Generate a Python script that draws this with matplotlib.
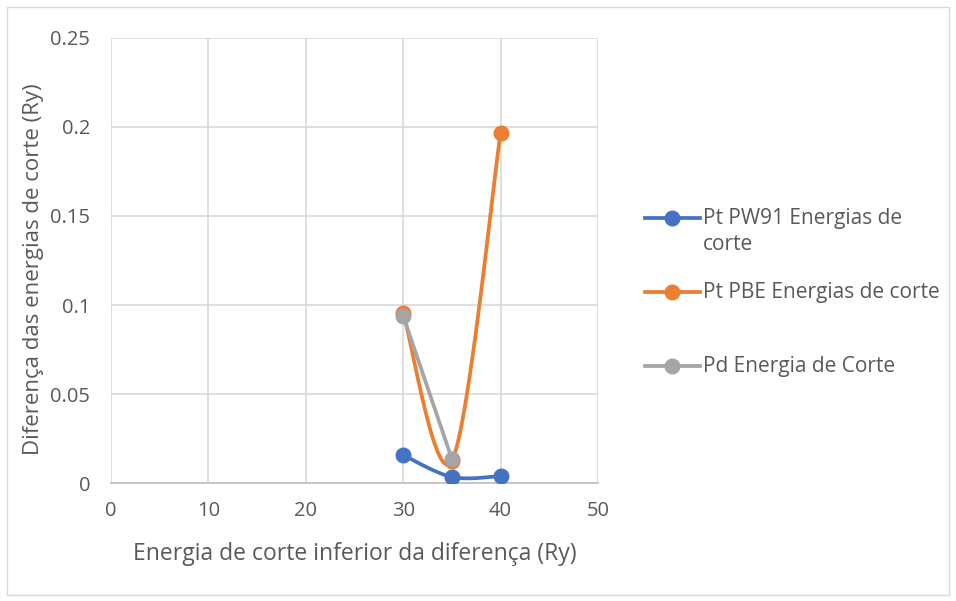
import matplotlib.pyplot as plt
from matplotlib.lines import Line2D
from matplotlib.patches import Rectangle
import numpy as np

plt.rcParams['font.family'] = ['Open Sans', 'DejaVu Sans']

# data
x_pw91 = [30, 35, 40]
y_pw91 = [0.0157, 0.0034, 0.0039]
x_pbe = [30, 35, 40]
y_pbe = [0.0955, 0.0125, 0.1966]
x_pd = [30, 35]
y_pd = [0.0938, 0.0135]

labels = ["Pt PW91 Energias de\ncorte", "Pt PBE Energias de corte", "Pd Energia de Corte"]
colors = ["#4472C4", "#ED7D31", "#A5A5A5"]
text_col = "#595959"


def smooth(xs, ys, n=60):
    # Excel-like smoothed line: cubic bezier with catmull-rom control points
    p = np.column_stack([xs, ys]).astype(float)
    if len(p) < 3:
        return p[:, 0], p[:, 1]
    out = []
    for i in range(len(p) - 1):
        p0 = p[i - 1] if i > 0 else p[i]
        p1, p2 = p[i], p[i + 1]
        p3 = p[i + 2] if i + 2 < len(p) else p[i + 1]
        c1 = p1 + (p2 - p0) / 6
        c2 = p2 - (p3 - p1) / 6
        t = np.linspace(0, 1, n)[:, None]
        seg = (1 - t) ** 3 * p1 + 3 * (1 - t) ** 2 * t * c1 + 3 * (1 - t) * t ** 2 * c2 + t ** 3 * p2
        out.append(seg)
    out = np.vstack(out)
    return out[:, 0], out[:, 1]


fig = plt.figure(figsize=(9.56, 6.01), dpi=100)
ax = fig.add_axes([0.1161, 0.1963, 0.5094, 0.7405])

series = [(x_pw91, y_pw91), (x_pbe, y_pbe), (x_pd, y_pd)]
for (xs, ys), c in zip(series, colors):
    sx, sy = smooth(xs, ys)
    ax.plot(sx, sy, color=c, lw=2.7, solid_capstyle='round', zorder=3)
    ax.plot(xs, ys, 'o', color=c, ms=10.5, zorder=4)

ax.set_xlim(0, 50)
ax.set_ylim(0, 0.25)
ax.set_xticks([0, 10, 20, 30, 40, 50])
ax.set_yticks([0, 0.05, 0.1, 0.15, 0.2, 0.25])
ax.set_yticklabels(["0", "0.05", "0.1", "0.15", "0.2", "0.25"])
ax.grid(True, color="#D9D9D9", lw=1.2)
ax.set_axisbelow(True)
for s in ["top", "right", "left"]:
    ax.spines[s].set_visible(False)
ax.spines["bottom"].set_color("#BFBFBF")
ax.spines["bottom"].set_linewidth(1.2)
ax.tick_params(axis='y', length=0, labelsize=14.5, colors=text_col, pad=15)
ax.tick_params(axis='x', length=0, labelsize=14.5, colors=text_col, pad=13)
ax.set_xlabel("Energia de corte inferior da diferença (Ry)", fontsize=16.5, color=text_col, labelpad=15)
ax.set_ylabel("Diferença das energias de corte (Ry)", fontsize=16, color=text_col)
ax.yaxis.set_label_coords(-0.16, 0.48)
ax.yaxis.label.set_va('center')

# legend drawn by hand to keep the wrapped first label aligned like the original
leg_y = [218, 292, 366]
for lab, c, yy in zip(labels, colors, leg_y):
    fy = 1 - yy / 601
    fig.add_artist(Line2D([645 / 956, 700 / 956], [fy, fy], color=c, lw=2.7,
                          transform=fig.transFigure))
    fig.add_artist(Line2D([672 / 956], [fy], marker='o', color=c, ms=10.5,
                          transform=fig.transFigure))
    fig.text(703 / 956, fy + 0.017, lab, fontsize=15, color=text_col, va='top', ha='left',
             linespacing=1.35)

fig.add_artist(Rectangle((7 / 956, 6 / 601), 942 / 956, 588 / 601, fill=False,
                         edgecolor="#D9D9D9", lw=1, transform=fig.transFigure))

plt.savefig("out.png", dpi=100)
